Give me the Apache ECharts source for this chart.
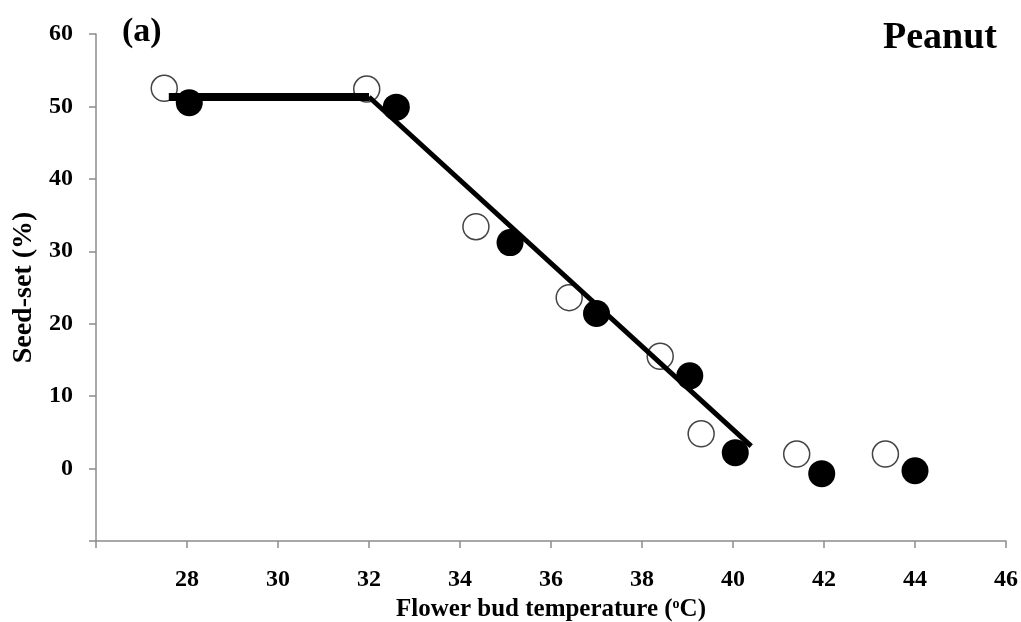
<!DOCTYPE html>
<html>
<head>
<meta charset="utf-8">
<script src="https://cdn.jsdelivr.net/npm/echarts@6/dist/echarts.min.js"></script>
<style>
  html, body { margin: 0; padding: 0; background: #fff; }
  #chart { width: 1021px; height: 622px; }
</style>
</head>
<body>
<div id="chart"></div>
<script>
// open circles
const openX = [27.5, 31.95, 34.35, 36.4, 38.4, 39.3, 41.4, 43.35];
const openY = [52.5, 52.4, 33.4, 23.6, 15.5, 4.8, 2.0, 2.0];
// filled circles
const filledX = [28.05, 32.6, 35.1, 37.0, 39.05, 40.05, 41.95, 44.0];
const filledY = [50.5, 49.9, 31.2, 21.4, 12.8, 2.2, -0.7, -0.3];
// fitted broken-stick line
const plateauX = [27.6, 32.0];
const plateauY = [51.3, 51.3];
const slopeX = [32.0, 40.4];
const slopeY = [51.3, 3.1];

const FONT = 'Liberation Serif';
const pairs = (xs, ys) => xs.map((x, i) => [x, ys[i]]);

const chart = echarts.init(document.getElementById('chart'));
chart.setOption({
  animation: false,
  backgroundColor: '#fff',
  grid: { left: 96, right: 15, top: 34, bottom: 81, containLabel: false, outerBoundsMode: 'none' },
  xAxis: {
    type: 'value',
    min: 26,
    max: 46,
    interval: 2,
    name: '{a|Flower bud temperature (}{s|o}{a|C)}',
    nameLocation: 'middle',
    nameGap: 53,
    nameTextStyle: {
      rich: {
        a: { fontFamily: FONT, fontWeight: 'bold', fontSize: 25, color: '#000' },
        s: { fontFamily: FONT, fontWeight: 'bold', fontSize: 14, color: '#000', verticalAlign: 'top', padding: [0, 0, 10, 0] }
      }
    },
    axisLine: { onZero: false, lineStyle: { color: '#8c8c8c', width: 1.5 } },
    axisTick: { show: true, length: 7, inside: false, lineStyle: { color: '#8c8c8c', width: 1.5 } },
    axisLabel: {
      margin: 27,
      fontFamily: FONT, fontWeight: 'bold', fontSize: 24, color: '#000',
      formatter: v => (v === 26 ? '' : String(v))
    },
    splitLine: { show: false }
  },
  yAxis: {
    type: 'value',
    min: -10,
    max: 60,
    interval: 10,
    name: 'Seed-set (%)',
    nameLocation: 'middle',
    nameGap: 58,
    nameTextStyle: { fontFamily: FONT, fontWeight: 'bold', fontSize: 28, color: '#000' },
    axisLine: { show: true, onZero: false, lineStyle: { color: '#8c8c8c', width: 1.5 } },
    axisTick: { show: true, length: 7, inside: false, lineStyle: { color: '#8c8c8c', width: 1.5 } },
    axisLabel: {
      margin: 23,
      fontFamily: FONT, fontWeight: 'bold', fontSize: 24, color: '#000',
      formatter: v => (v === -10 ? '' : String(v))
    },
    splitLine: { show: false }
  },
  graphic: [
    { type: 'text', left: 122, top: 15, style: { text: '(a)', fontFamily: FONT, fontWeight: 'bold', fontSize: 34, fill: '#000' } },
    { type: 'text', right: 24, top: 19, style: { text: 'Peanut', fontFamily: FONT, fontWeight: 'bold', fontSize: 38, fill: '#000' } }
  ],
  series: [
    {
      type: 'scatter',
      symbol: 'circle',
      symbolSize: 26,
      itemStyle: { color: '#fff', borderColor: '#444', borderWidth: 1.5, opacity: 1 },
      data: pairs(openX, openY),
      z: 2
    },
    {
      type: 'scatter',
      symbol: 'circle',
      symbolSize: 27,
      itemStyle: { color: '#000', opacity: 1 },
      data: pairs(filledX, filledY),
      z: 3
    },
    {
      type: 'line',
      showSymbol: false,
      lineStyle: { color: '#000', width: 8, cap: 'butt' },
      data: pairs(plateauX, plateauY),
      z: 4
    },
    {
      type: 'line',
      showSymbol: false,
      lineStyle: { color: '#000', width: 5, cap: 'butt' },
      data: pairs(slopeX, slopeY),
      z: 4
    }
  ]
});
</script>
</body>
</html>
